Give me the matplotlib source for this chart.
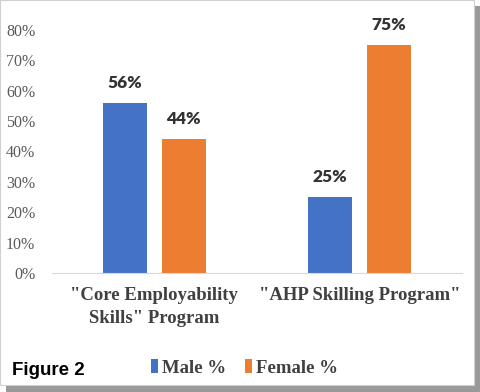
import matplotlib.pyplot as plt
import matplotlib.patches as mpatches
import numpy as np

categories = ['"Core Employability\nSkills" Program', '"AHP Skilling Program"']
male = [56, 25]
female = [44, 75]
yticks = [0, 10, 20, 30, 40, 50, 60, 70, 80]

blue = '#4472c4'
orange = '#ed7d31'
serif = 'Liberation Serif'

fig = plt.figure(figsize=(4.8, 3.92), dpi=100)

# frame with shadow around the whole picture
fig.patches.append(mpatches.Rectangle((0.012, 0.0), 0.988, 0.985, transform=fig.transFigure,
                                      facecolor='#9a9a9a', edgecolor='none', zorder=-3))
fig.patches.append(mpatches.Rectangle((0.0, 0.018), 0.988, 0.982, transform=fig.transFigure,
                                      facecolor='white', edgecolor='#d0d0d0', lw=0.8, zorder=-2))

ax = fig.add_axes([0.108, 0.3036, 0.854, 0.62])
ax.set_facecolor('none')

x = np.arange(len(categories))
w = 0.215
off = 0.144
b1 = ax.bar(x - off, male, w, color=blue, label='Male %')
b2 = ax.bar(x + off, female, w, color=orange, label='Female %')

for bars, vals in ((b1, male), (b2, female)):
    for r, v in zip(bars, vals):
        ax.annotate(f'{v}%', (r.get_x() + r.get_width() / 2, v), xytext=(0, 14.5),
                    textcoords='offset points', ha='center', va='center',
                    fontfamily='Lato', fontweight='heavy', fontsize=12.5, color='#333333')

ax.set_xlim(-0.5, 1.5)
ax.set_ylim(0, 80)
ax.set_yticks(yticks)
ax.set_yticklabels([f'{t}%' for t in yticks], fontfamily=serif, fontsize=11.5, color='#595959')
ax.set_xticks(x)
ax.set_xticklabels(categories, fontfamily=serif, fontweight='bold', fontsize=13.5,
                   color='#404040', linespacing=1.5)
ax.tick_params(axis='y', length=0, pad=12)
ax.tick_params(axis='x', length=0, pad=10)
for s in ('top', 'right', 'left'):
    ax.spines[s].set_visible(False)
ax.spines['bottom'].set_color('#d9d9d9')

ax.legend(loc='center', bbox_to_anchor=(0.47, -0.39), ncol=2, frameon=False,
          prop={'family': serif, 'weight': 'bold', 'size': 13.5},
          handlelength=0.4, handleheight=0.8, handletextpad=0.2, columnspacing=1.0,
          labelcolor='#404040')

fig.text(0.025, 0.055, 'Figure 2', fontfamily='Liberation Sans', fontweight='bold',
         fontsize=13.5, color='black', va='center')

fig.savefig('out.png', dpi=100)
